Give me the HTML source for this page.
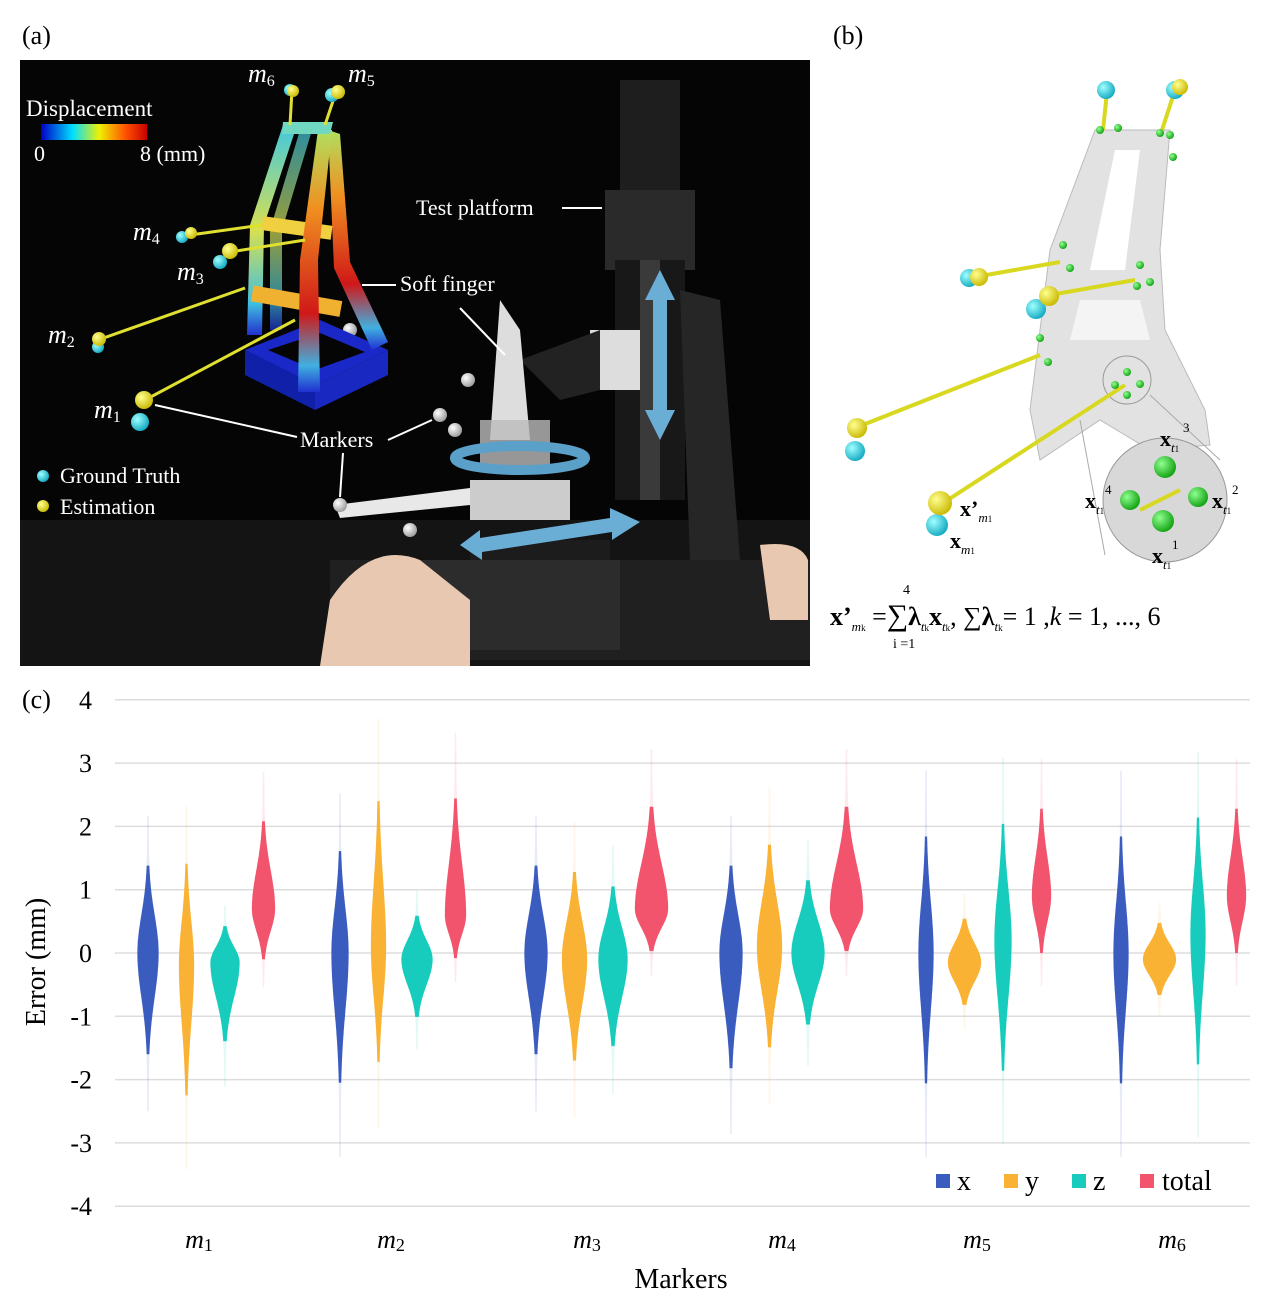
<!DOCTYPE html>
<html><head><meta charset="utf-8"><style>
body{margin:0;background:#fff;width:1270px;height:1314px;overflow:hidden}
svg{display:block}
text{font-family:"Liberation Serif",serif}
</style></head><body>
<svg id="s" width="1270" height="1314" viewBox="0 0 1270 1314" xmlns="http://www.w3.org/2000/svg">
<defs>
<linearGradient id="cb" x1="0" x2="1"><stop offset="0" stop-color="#0000c8"/><stop offset=".3" stop-color="#00e0ff"/><stop offset=".55" stop-color="#f0f000"/><stop offset=".8" stop-color="#ff5000"/><stop offset="1" stop-color="#c80000"/></linearGradient>
<linearGradient id="legL" x1="0" y1="0" x2="0" y2="1"><stop offset="0" stop-color="#40c8e0"/><stop offset=".5" stop-color="#d8e050"/><stop offset=".85" stop-color="#40c0e0"/><stop offset="1" stop-color="#2030d0"/></linearGradient>
<linearGradient id="legR" x1="0" y1="0" x2="0" y2="1"><stop offset="0" stop-color="#b0e060"/><stop offset=".3" stop-color="#f09020"/><stop offset=".7" stop-color="#d01818"/><stop offset=".9" stop-color="#40b0e0"/><stop offset="1" stop-color="#2030d0"/></linearGradient>
<radialGradient id="yb" cx=".35" cy=".35" r=".7"><stop offset="0" stop-color="#ffff90"/><stop offset="1" stop-color="#c8b800"/></radialGradient>
<radialGradient id="cbb" cx=".35" cy=".35" r=".7"><stop offset="0" stop-color="#a0ffff"/><stop offset="1" stop-color="#10a8c0"/></radialGradient>
<radialGradient id="gb" cx=".35" cy=".35" r=".7"><stop offset="0" stop-color="#90ff90"/><stop offset="1" stop-color="#10a010"/></radialGradient>
<radialGradient id="wb" cx=".35" cy=".35" r=".7"><stop offset="0" stop-color="#fff"/><stop offset="1" stop-color="#999"/></radialGradient>
</defs>
<!-- panel a -->
<text x="22" y="44" font-size="26">(a)</text>
<rect x="20" y="60" width="790" height="606" fill="#050505"/>
<rect x="20" y="520" width="790" height="146" fill="#141414"/>
<rect x="620" y="80" width="60" height="120" fill="#1e1e1e"/>
<rect x="605" y="190" width="90" height="80" fill="#2a2a2a"/>
<rect x="615" y="260" width="70" height="240" fill="#181818"/>
<rect x="640" y="260" width="20" height="240" fill="#3a3a3a"/>
<polygon points="680,290 720,300 740,560 690,560" fill="#262626"/>
<rect x="590" y="330" width="50" height="60" fill="#ddd"/>
<polygon points="520,360 600,330 600,390 560,400" fill="#222"/>
<rect x="470" y="540" width="140" height="110" fill="#1c1c1c"/>
<rect x="330" y="560" width="480" height="100" fill="#202020"/>
<rect x="420" y="560" width="200" height="90" fill="#2c2c2c"/>
<polygon points="500,300 520,330 530,440 490,440" fill="#ddd"/>
<rect x="480" y="420" width="70" height="50" fill="#bbb" opacity=".8"/>
<rect x="470" y="480" width="100" height="40" fill="#ccc"/>
<polygon points="335,505 470,488 470,505 340,518" fill="#e8e8e8"/>
<ellipse cx="520" cy="458" rx="65" ry="12" fill="none" stroke="#5aa0c8" stroke-width="10"/>
<polygon points="660,270 675,300 667,300 667,410 675,410 660,440 645,410 653,410 653,300 645,300" fill="#6aaed6"/>
<polygon points="460,545 480,530 480,538 610,518 610,508 640,522 612,540 612,532 482,552 482,560" fill="#6aaed6"/>
<path d="M330,600 Q370,540 420,560 L470,600 L470,666 L320,666Z" fill="#e8c8b0"/>
<path d="M760,545 Q800,540 808,560 L808,620 L770,620Z" fill="#e8c8b0"/>
<g fill="url(#wb)"><circle cx="320" cy="330" r="8"/><circle cx="350" cy="330" r="7"/><circle cx="468" cy="380" r="7"/><circle cx="440" cy="415" r="7"/><circle cx="455" cy="430" r="7"/><circle cx="340" cy="505" r="7"/><circle cx="410" cy="530" r="7"/></g>
<!-- finger heatmap -->
<polygon points="245,350 320,320 388,350 315,385" fill="#1a28c8"/>
<polygon points="245,350 315,385 315,410 245,375" fill="#1020a8"/>
<polygon points="315,385 388,350 388,375 315,410" fill="#1828c0"/>
<polygon points="268,350 320,333 365,352 315,370" fill="#050505"/>
<polygon points="300,130 312,130 282,230 282,330 270,330 270,230" fill="url(#legL)" opacity=".7"/>
<polygon points="283,125 297,125 264,225 262,335 247,335 250,225" fill="url(#legL)"/>
<polygon points="328,130 340,134 350,262 388,342 372,350 334,268" fill="url(#legR)"/>
<rect x="262" y="220" width="70" height="14" fill="#f0d040" transform="rotate(8 290 227)"/>
<rect x="252" y="292" width="90" height="16" fill="#f0b030" transform="rotate(10 290 298)"/>
<polygon points="318,130 332,130 318,260 320,392 298,392 300,260" fill="url(#legR)"/>
<polygon points="283,122 333,122 330,134 282,134" fill="#70d8c0"/>
<g stroke="#e0e030" stroke-width="3"><line x1="290" y1="125" x2="292" y2="90"/><line x1="325" y1="125" x2="336" y2="92"/><line x1="190" y1="235" x2="262" y2="225"/><line x1="230" y1="252" x2="305" y2="240"/><line x1="98" y1="340" x2="245" y2="288"/><line x1="145" y1="400" x2="295" y2="320"/></g>
<g fill="url(#cbb)"><circle cx="290" cy="90" r="6"/><circle cx="332" cy="95" r="7"/><circle cx="182" cy="237" r="6"/><circle cx="220" cy="262" r="7"/><circle cx="98" cy="347" r="6"/><circle cx="140" cy="422" r="9"/><circle cx="43" cy="476" r="6"/></g>
<g fill="url(#yb)"><circle cx="293" cy="91" r="6"/><circle cx="338" cy="92" r="7"/><circle cx="191" cy="233" r="6"/><circle cx="230" cy="251" r="8"/><circle cx="99" cy="339" r="7"/><circle cx="144" cy="400" r="9"/><circle cx="43" cy="506" r="6"/></g>
<g fill="#fff" font-style="italic" font-size="26"><text x="248" y="82">m<tspan font-size="16" font-style="normal" dy="4">6</tspan></text><text x="348" y="82">m<tspan font-size="16" font-style="normal" dy="4">5</tspan></text><text x="133" y="240">m<tspan font-size="16" font-style="normal" dy="4">4</tspan></text><text x="177" y="280">m<tspan font-size="16" font-style="normal" dy="4">3</tspan></text><text x="48" y="343">m<tspan font-size="16" font-style="normal" dy="4">2</tspan></text><text x="94" y="418">m<tspan font-size="16" font-style="normal" dy="4">1</tspan></text></g>
<text x="26" y="116" font-size="23" fill="#fff">Displacement</text>
<rect x="41" y="124" width="106" height="16" fill="url(#cb)"/>
<text x="34" y="161" font-size="22" fill="#fff">0</text><text x="140" y="161" font-size="22" fill="#fff">8 (mm)</text>
<text x="416" y="215" font-size="22" fill="#fff">Test platform</text><line x1="562" y1="208" x2="602" y2="208" stroke="#fff" stroke-width="2"/>
<text x="400" y="291" font-size="22" fill="#fff">Soft finger</text><line x1="362" y1="285" x2="396" y2="285" stroke="#fff" stroke-width="2"/>
<line x1="460" y1="308" x2="505" y2="355" stroke="#fff" stroke-width="2"/>
<text x="300" y="447" font-size="22" fill="#fff">Markers</text>
<g stroke="#fff" stroke-width="2"><line x1="155" y1="405" x2="297" y2="437"/><line x1="388" y1="440" x2="432" y2="420"/><line x1="343" y1="453" x2="340" y2="497"/></g>
<text x="60" y="483" font-size="22" fill="#fff">Ground Truth</text><text x="60" y="514" font-size="22" fill="#fff">Estimation</text>
<!-- panel b -->
<text x="833" y="44" font-size="26">(b)</text>
<path d="M1095,130 L1170,130 L1160,250 L1165,330 L1205,410 L1210,445 L1150,450 L1100,420 L1040,460 L1030,410 L1050,250 Z" fill="#e2e2e2" stroke="#bbb"/>
<path d="M1115,150 L1140,150 L1125,270 L1090,270 Z" fill="#fff"/>
<path d="M1080,300 L1140,300 L1150,340 L1070,340Z" fill="#f4f4f4"/>
<circle cx="1165" cy="500" r="62" fill="#d8d8d8" stroke="#999"/>
<circle cx="1127" cy="380" r="24" fill="none" stroke="#999"/>
<line x1="1080" y1="420" x2="1105" y2="555" stroke="#aaa"/><line x1="1150" y1="395" x2="1220" y2="460" stroke="#aaa"/>
<g stroke="#d8d820" stroke-width="4"><line x1="1103" y1="130" x2="1107" y2="92"/><line x1="1162" y1="130" x2="1175" y2="90"/><line x1="975" y1="277" x2="1060" y2="262"/><line x1="1050" y1="295" x2="1135" y2="280"/><line x1="855" y1="428" x2="1040" y2="355"/><line x1="940" y1="505" x2="1125" y2="385"/><line x1="1140" y1="510" x2="1180" y2="490"/></g>
<g fill="url(#cbb)"><circle cx="1106" cy="90" r="9"/><circle cx="1175" cy="90" r="9"/><circle cx="969" cy="278" r="9"/><circle cx="1036" cy="309" r="10"/><circle cx="855" cy="451" r="10"/><circle cx="937" cy="525" r="11"/></g>
<g fill="url(#yb)"><circle cx="1180" cy="87" r="8"/><circle cx="979" cy="277" r="9"/><circle cx="1049" cy="296" r="10"/><circle cx="857" cy="428" r="10"/><circle cx="940" cy="503" r="12"/></g>
<g fill="url(#gb)"><circle cx="1165" cy="467" r="11"/><circle cx="1130" cy="500" r="10"/><circle cx="1198" cy="497" r="10"/><circle cx="1163" cy="521" r="11"/>
<circle cx="1100" cy="130" r="4"/><circle cx="1118" cy="128" r="4"/><circle cx="1160" cy="133" r="4"/><circle cx="1170" cy="135" r="4"/><circle cx="1173" cy="157" r="4"/><circle cx="1063" cy="245" r="4"/><circle cx="1070" cy="268" r="4"/><circle cx="1140" cy="265" r="4"/><circle cx="1137" cy="286" r="4"/><circle cx="1150" cy="282" r="4"/><circle cx="1040" cy="338" r="4"/><circle cx="1048" cy="362" r="4"/><circle cx="1127" cy="372" r="4"/><circle cx="1115" cy="385" r="4"/><circle cx="1140" cy="384" r="4"/><circle cx="1127" cy="395" r="4"/></g>
<g font-size="22" font-weight="bold"><text x="960" y="516">x’<tspan font-size="13" font-weight="normal" font-style="italic" dy="6">m</tspan><tspan font-size="9" font-weight="normal">1</tspan></text>
<text x="950" y="548">x<tspan font-size="13" font-weight="normal" font-style="italic" dy="6">m</tspan><tspan font-size="9" font-weight="normal">1</tspan></text>
<text x="1160" y="446">x<tspan font-size="13" font-weight="normal" font-style="italic" dy="6">t</tspan><tspan font-size="9" font-weight="normal">1</tspan></text><text x="1183" y="432" font-size="13" font-weight="normal">3</text>
<text x="1085" y="508">x<tspan font-size="13" font-weight="normal" font-style="italic" dy="6">t</tspan><tspan font-size="9" font-weight="normal">1</tspan></text><text x="1105" y="494" font-size="13" font-weight="normal">4</text>
<text x="1212" y="508">x<tspan font-size="13" font-weight="normal" font-style="italic" dy="6">t</tspan><tspan font-size="9" font-weight="normal">1</tspan></text><text x="1232" y="494" font-size="13" font-weight="normal">2</text>
<text x="1152" y="563">x<tspan font-size="13" font-weight="normal" font-style="italic" dy="6">t</tspan><tspan font-size="9" font-weight="normal">1</tspan></text><text x="1172" y="549" font-size="13" font-weight="normal">1</text></g>
<text x="830" y="625" font-size="26"><tspan font-weight="bold">x’</tspan><tspan font-size="13" font-style="italic" dy="6">m</tspan><tspan font-size="9">k</tspan><tspan dy="-6"> =</tspan><tspan font-size="30">∑</tspan><tspan font-weight="bold">λ</tspan><tspan font-size="13" font-style="italic" dy="6">t</tspan><tspan font-size="9">k</tspan><tspan dy="-6" font-weight="bold">x</tspan><tspan font-size="13" font-style="italic" dy="6">t</tspan><tspan font-size="9">k</tspan><tspan dy="-6">, ∑</tspan><tspan font-weight="bold">λ</tspan><tspan font-size="13" font-style="italic" dy="6">t</tspan><tspan font-size="9">k</tspan><tspan dy="-6">= 1 ,</tspan><tspan font-style="italic">k</tspan> = 1, ..., 6</text>
<text x="903" y="594" font-size="14">4</text><text x="893" y="648" font-size="14">i =1</text>
<!-- panel c -->
<text x="22" y="708" font-size="26">(c)</text>
<g id="grid" stroke="#ddd" stroke-width="1.5"></g>
<g id="vio"></g>
<g font-size="26" text-anchor="end" id="yl"></g>
<text transform="translate(45,962) rotate(-90)" font-size="28" text-anchor="middle">Error (mm)</text>
<text x="681" y="1288" font-size="28" text-anchor="middle">Markers</text>
<g font-size="26" font-style="italic" text-anchor="middle" id="xl"></g>
<g font-size="28"><rect x="936" y="1174" width="14" height="14" fill="#3a5cbf"/><text x="957" y="1190">x</text>
<rect x="1004" y="1174" width="14" height="14" fill="#f9b233"/><text x="1025" y="1190">y</text>
<rect x="1072" y="1174" width="14" height="14" fill="#17ccbd"/><text x="1093" y="1190">z</text>
<rect x="1140" y="1174" width="14" height="14" fill="#f2546e"/><text x="1162" y="1190">total</text></g>
</svg>
<script>
var ns="http://www.w3.org/2000/svg";
function el(p,t,a,txt){var e=document.createElementNS(ns,t);for(var k in a)e.setAttribute(k,a[k]);if(txt!=null)e.textContent=txt;document.getElementById(p).appendChild(e);return e;}
function Y(v){return 953-v*63.3;}
for(var v=-4;v<=4;v++){el("grid","line",{x1:115,x2:1250,y1:Y(v),y2:Y(v)});el("yl","text",{x:92,y:Y(v)+9},String(v));}
var xs=[199,391,587,782,977,1172];
xs.forEach(function(x,i){var t=el("xl","text",{x:x,y:1248},"m");var s=document.createElementNS(ns,"tspan");s.setAttribute("font-style","normal");s.setAttribute("font-size","18");s.setAttribute("dy","3");s.textContent=String(i+1);t.appendChild(s);});
var cols=["#3a5cbf","#f9b233","#17ccbd","#f2546e"];
var D=[
[[0,10,0.6,0.7],[-0.2,7,0.7,0.9],[-0.15,14,0.25,0.55],[0.7,11,0.6,0.35]],
[[0,8,0.7,0.9],[0.1,7,1.0,0.8],[-0.1,15,0.3,0.4],[0.6,10,0.8,0.3]],
[[0,11,0.6,0.7],[-0.1,12,0.6,0.7],[-0.1,14,0.5,0.6],[0.7,16,0.7,0.3]],
[[0,11,0.6,0.8],[0.1,12,0.7,0.7],[0,16,0.5,0.5],[0.7,16,0.7,0.3]],
[[0,7,0.8,0.9],[-0.15,16,0.3,0.3],[0.2,8,0.8,0.9],[0.9,9,0.6,0.4]],
[[0,7,0.8,0.9],[-0.1,16,0.25,0.25],[0.3,7,0.8,0.9],[0.9,9,0.6,0.4]]];
xs.forEach(function(cx,i){for(var j=0;j<4;j++){var d=D[i][j],x0=cx-51+j*38.5;
function poly(k,minw,op){var L=[],R=[];for(var v=d[0]+k*d[2];v>=d[0]-k*d[3];v-=0.02){var s=v>d[0]?d[2]:d[3];var z=(v-d[0])/s;var w=d[1]*Math.exp(-z*z/2)+minw;L.push((x0-w).toFixed(1)+","+Y(v).toFixed(1));R.unshift((x0+w).toFixed(1)+","+Y(v).toFixed(1));}
el("vio","polygon",{points:L.concat(R).join(" "),fill:cols[j],opacity:op});}
poly(3.6,0.8,0.12);poly(2.3,0.6,1);}});
</script>
</body></html>
